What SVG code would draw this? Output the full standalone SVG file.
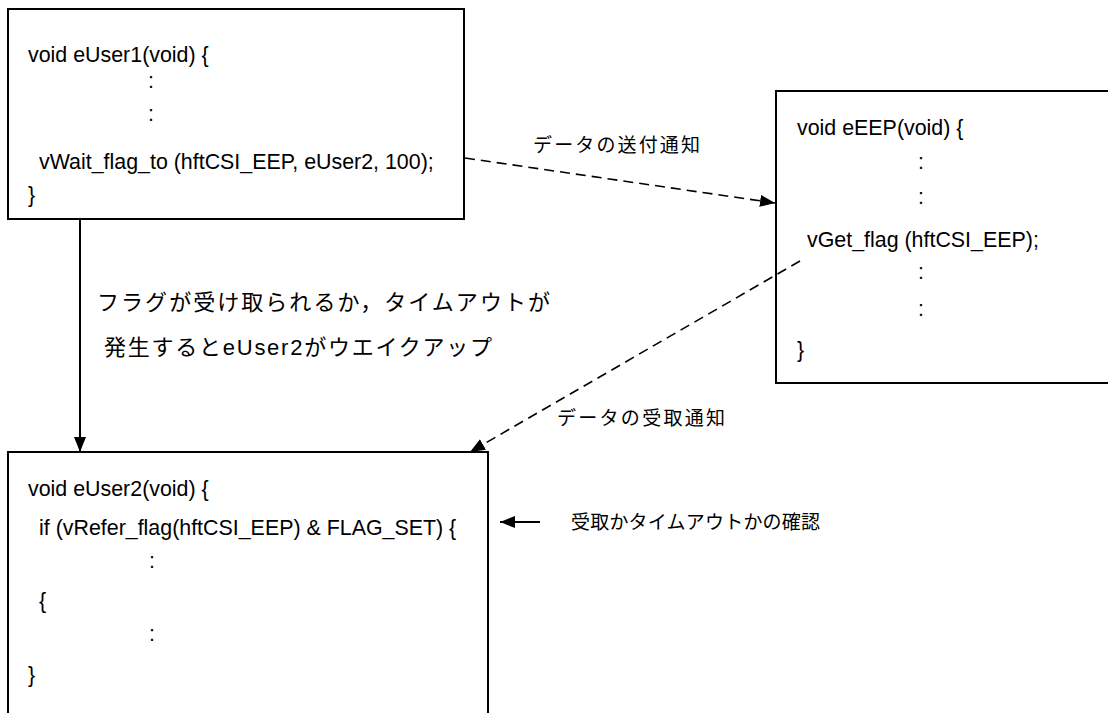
<svg xmlns="http://www.w3.org/2000/svg" width="1108" height="713" viewBox="0 0 1108 713">
<style>
.box{fill:#fff;stroke:#000;stroke-width:2}
.code{font-family:"Liberation Sans",Arial,sans-serif;font-size:21.4px;fill:#000}
.mid{text-anchor:middle}
.jp{font-family:"Liberation Sans","Noto Sans CJK JP",sans-serif;fill:#000}
.big{font-size:22px}
.sm{font-size:19px}
.ln{fill:none;stroke:#000;stroke-width:2}
.dash{stroke-dasharray:10 6;stroke-width:1.6}
</style>
<defs>
<marker id="ah" markerUnits="userSpaceOnUse" markerWidth="16" markerHeight="13" refX="15" refY="6" orient="auto">
<path d="M0,0 L15,6 L0,12 z" fill="#000"/>
</marker>
</defs>
<rect width="1108" height="713" fill="#fff"/>
<g id="eUser1">
<rect class="box" x="8" y="9" width="456" height="210"/>
<text class="code" x="28" y="62">void eUser1(void) {</text>
<text class="code mid" x="151" y="88">:</text>
<text class="code mid" x="151" y="121">:</text>
<text class="code" x="39" y="169">vWait_flag_to (hftCSI_EEP, eUser2, 100);</text>
<text class="code" x="28" y="202">}</text>
</g>
<g id="eEEP">
<rect class="box" x="776" y="91" width="400" height="292"/>
<text class="code" x="797" y="135">void eEEP(void) {</text>
<text class="code mid" x="921" y="169">:</text>
<text class="code mid" x="921" y="204">:</text>
<text class="code" x="807" y="247">vGet_flag (hftCSI_EEP);</text>
<text class="code mid" x="921" y="279">:</text>
<text class="code mid" x="921" y="316">:</text>
<text class="code" x="797" y="357">}</text>
</g>
<g id="eUser2">
<rect class="box" x="8" y="452" width="480" height="300"/>
<text class="code" x="28" y="496">void eUser2(void) {</text>
<text class="code" x="39" y="535">if (vRefer_flag(hftCSI_EEP) &amp; FLAG_SET) {</text>
<text class="code mid" x="152" y="568">:</text>
<text class="code" x="39" y="608">{</text>
<text class="code mid" x="152" y="641">:</text>
<text class="code" x="28" y="682">}</text>
</g>
<g id="connectors">
<line class="ln dash" x1="465" y1="158" x2="775" y2="203" marker-end="url(#ah)"/>
<line class="ln" x1="80" y1="219" x2="80" y2="452" marker-end="url(#ah)"/>
<line class="ln dash" x1="800" y1="261" x2="470" y2="452" marker-end="url(#ah)"/>
<line class="ln" x1="540" y1="522" x2="500" y2="522" marker-end="url(#ah)"/>
</g>
<g id="labels">
<text class="jp sm" x="533" y="152" textLength="167" lengthAdjust="spacing">データの送付通知</text>
<text class="jp sm" x="557" y="425" textLength="168" lengthAdjust="spacing">データの受取通知</text>
<text class="jp big" x="97" y="310" textLength="453" lengthAdjust="spacing">フラグが受け取られるか，タイムアウトが</text>
<text class="jp big" x="104" y="355" textLength="388" lengthAdjust="spacing">発生するとeUser2がウエイクアップ</text>
<text class="jp sm" x="571" y="529" textLength="249" lengthAdjust="spacing">受取かタイムアウトかの確認</text>
</g>
</svg>
